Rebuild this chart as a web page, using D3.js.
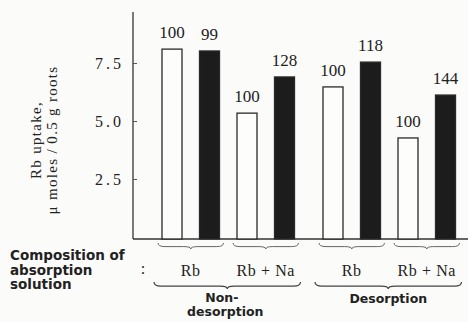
<!DOCTYPE html>
<html>
<head>
<meta charset="utf-8">
<script src="https://cdn.jsdelivr.net/npm/d3@7"></script>
<style>
  html, body { margin: 0; padding: 0; background: #fbfbf9; }
  svg { display: block; }
  text { fill: #222; }
</style>
</head>
<body>
<svg id="chart" width="468" height="322"></svg>
<script>
// data
const treatments = ["Non-desorption", "Desorption"];
const compositions = ["Rb", "Rb+Na"];
const controlValues = [8.10, 5.34, 6.47, 4.27];   // open bars
const treatedValues = [8.02, 6.90, 7.54, 6.12];   // filled bars
const controlLabels = ["100", "100", "100", "100"];
const treatedLabels = ["99", "128", "118", "144"];
const yTicks = [2.5, 5.0, 7.5];

const svg = d3.select("#chart");
const serif = "'Liberation Serif', 'DejaVu Serif', serif";
const sansBold = "'DejaVu Sans', 'Liberation Sans', sans-serif";

const y = d3.scaleLinear().domain([0, 9.7]).range([237, 12]);

// nested band scales: treatment group -> composition -> bar
const x0 = d3.scaleBand().domain(treatments).range([158, 480]);
const x1 = d3.scaleBand().domain(compositions).range([0, 150]);
const x2 = d3.scaleBand().domain(["control", "treated"]).range([0, 75]);
const barW = 20, barOff = 4;

const bars = [];
treatments.forEach((t, ti) => {
  compositions.forEach((c, ci) => {
    const i = ti * 2 + ci;
    bars.push({t, c, kind: "control", v: controlValues[i], label: controlLabels[i]});
    bars.push({t, c, kind: "treated", v: treatedValues[i], label: treatedLabels[i]});
  });
});
const bx = d => x0(d.t) + x1(d.c) + x2(d.kind) + barOff;

// axis
svg.append("line")
  .attr("x1", 133).attr("x2", 133)
  .attr("y1", y.range()[1]).attr("y2", 239)
  .attr("stroke", "#333").attr("stroke-width", 1.3);
svg.append("line")
  .attr("x1", 133).attr("x2", 468)
  .attr("y1", 239).attr("y2", 239)
  .attr("stroke", "#333").attr("stroke-width", 1.3);

const yAxis = svg.append("g").attr("transform", "translate(133,0)")
  .call(d3.axisRight(y).tickValues(yTicks).tickSize(4).tickFormat(d3.format(".1f")));
yAxis.select(".domain").remove();
yAxis.selectAll(".tick line").attr("stroke", "#555");
yAxis.selectAll(".tick text")
  .attr("x", -9).attr("text-anchor", "end")
  .style("font-family", serif).style("font-size", "16px")
  .style("letter-spacing", "3px").attr("fill", "#333");

// y label
const yl = svg.append("text")
  .attr("transform", "translate(41,140) rotate(-90)")
  .attr("text-anchor", "middle")
  .style("font-family", serif).style("font-size", "15px").style("letter-spacing", "1.3px");
yl.append("tspan").attr("x", 0).attr("dy", 0).text("Rb uptake,");
yl.append("tspan").attr("x", 0).attr("dy", 16).text("\u03bc moles\u2009/\u20090.5 g roots");

// bars
svg.selectAll("rect.bar")
  .data(bars)
  .enter().append("rect")
  .attr("class", "bar")
  .attr("x", bx)
  .attr("y", d => y(d.v))
  .attr("width", barW)
  .attr("height", d => 239 - y(d.v))
  .attr("fill", d => d.kind === "control" ? "#fdfdfb" : "#1c1c1c")
  .attr("stroke", "#2a2a2a")
  .attr("stroke-width", 1.3);

svg.selectAll("text.val")
  .data(bars)
  .enter().append("text")
  .attr("class", "val")
  .attr("x", d => bx(d) + barW / 2)
  .attr("y", d => y(d.v) - 11)
  .attr("text-anchor", "middle")
  .style("font-family", serif).style("font-size", "17px")
  .text(d => d.label);

// braces
function brace(xa, xb, yy, h) {
  const m = (xa + xb) / 2, r = Math.min(7, (xb - xa) / 6), hm = yy + h * 0.6;
  return `M${xa},${yy} Q${xa},${hm} ${xa + r},${hm} L${m - r},${hm} Q${m},${hm} ${m},${yy + h}` +
         ` Q${m},${hm} ${m + r},${hm} L${xb - r},${hm} Q${xb},${hm} ${xb},${yy}`;
}

const pairs = [];
treatments.forEach(t => compositions.forEach(c => {
  const left = x0(t) + x1(c) + barOff;
  const right = x0(t) + x1(c) + x2("treated") + barOff + barW;
  pairs.push({t, c, left, right});
}));

svg.selectAll("path.small")
  .data(pairs)
  .enter().append("path")
  .attr("class", "small")
  .attr("d", d => brace(d.left - 4, d.right + 4, 243, 6))
  .attr("fill", "none").attr("stroke", "#666").attr("stroke-width", 1);

svg.selectAll("text.comp")
  .data(pairs)
  .enter().append("text")
  .attr("class", "comp")
  .attr("x", d => (d.left + d.right) / 2)
  .attr("y", 276)
  .attr("text-anchor", "middle")
  .style("font-family", serif).style("font-size", "16px").style("letter-spacing", "0.6px")
  .text(d => d.c.replace("+", " + "));

const groups = treatments.map(t => ({
  t,
  left: x0(t) + barOff - 8,
  right: x0(t) + x1(compositions[1]) + x2("treated") + barOff + barW + 6
}));

svg.selectAll("path.big")
  .data(groups)
  .enter().append("path")
  .attr("class", "big")
  .attr("d", d => brace(d.left, d.right, 282, 7))
  .attr("fill", "none").attr("stroke", "#444").attr("stroke-width", 1.2);

const gl = svg.selectAll("text.grp")
  .data(groups)
  .enter().append("text")
  .attr("class", "grp")
  .attr("text-anchor", "middle")
  .style("font-family", sansBold).style("font-weight", "bold").style("font-size", "12.5px")
  .attr("fill", "#444");
gl.each(function (d) {
  const g = d3.select(this);
  const cx = (d.left + d.right) / 2;
  if (d.t === "Non-desorption") {
    g.append("tspan").attr("x", cx - 22).attr("y", 302).attr("text-anchor", "start").text("Non-");
    g.append("tspan").attr("x", cx - 2).attr("y", 316).text("desorption");
  } else {
    g.append("tspan").attr("x", cx).attr("y", 303).text("Desorption");
  }
});

// row title
const rt = svg.append("text")
  .style("font-family", sansBold).style("font-weight", "bold").style("font-size", "13.5px")
  .attr("fill", "#333");
["Composition of", "absorption", "solution"].forEach((s, i) => {
  rt.append("tspan").attr("x", 10).attr("y", 260 + i * 14.5).text(s);
});
svg.append("text")
  .attr("x", 143).attr("y", 274)
  .attr("text-anchor", "middle")
  .style("font-family", serif).style("font-size", "16px")
  .text(":");
</script>
</body>
</html>
